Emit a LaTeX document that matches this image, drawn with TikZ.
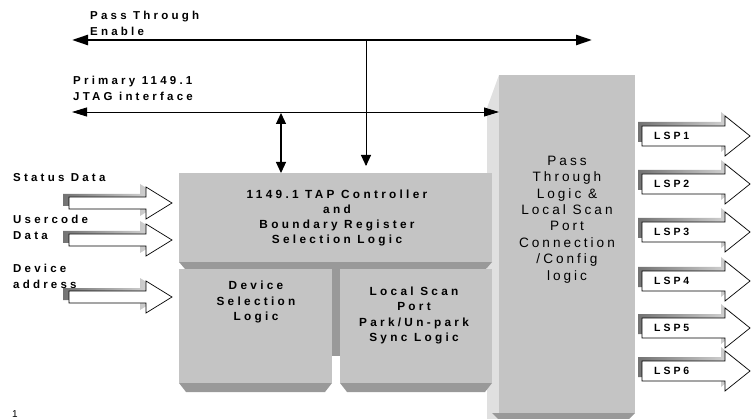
\documentclass[tikz,border=0pt]{standalone}
\usepackage{fontspec}
\setmainfont{Liberation Sans}
\newfontfamily\lblfont[LetterSpace=28]{Liberation Sans}
\newfontfamily\logicfont[LetterSpace=22]{Liberation Sans}
\usetikzlibrary{arrows.meta,calc}
\definecolor{facegray}{HTML}{C4C4C4}
\definecolor{edgegray}{HTML}{999999}
\definecolor{sidegray}{HTML}{E0E0E0}

% hollow block arrow with a soft drop shadow
% #1 start x, #2 centre y, #3 shaft half height, #4 head base x,
% #5 head half height, #6 tip x, #7/#8 shadow offset
\newcommand\fatarrow[8]{%
  \path[left color=black!55, right color=black!10, shift={(#7,#8)}]
    ({#1},{#2-#3}) -- ({#4},{#2-#3}) -- ({#4},{#2-#5}) -- ({#6},{#2})
    -- ({#4},{#2+#5}) -- ({#4},{#2+#3}) -- ({#1},{#2+#3}) -- cycle;
  \filldraw[fill=white, draw=black, line width=0.7pt]
    ({#1},{#2-#3}) -- ({#4},{#2-#3}) -- ({#4},{#2-#5}) -- ({#6},{#2})
    -- ({#4},{#2+#5}) -- ({#4},{#2+#3}) -- ({#1},{#2+#3}) -- cycle;
}

\begin{document}
\begin{tikzpicture}[x=1pt,y=-1pt,
  lbl/.style={font=\lblfont\bfseries\fontsize{11.5}{16}\selectfont, inner sep=0pt, text=black},
  lsplbl/.style={font=\lblfont\bfseries\fontsize{10.5}{12}\selectfont, inner sep=0pt, anchor=west},
  blocktxt/.style={font=\lblfont\bfseries\fontsize{11.8}{15.3}\selectfont, inner sep=0pt, align=center},
  face/.style={fill=facegray, draw=none, inner sep=0pt, outer sep=0pt},
  thickbus/.style={line width=2.4pt, {Triangle[length=16pt,width=10pt]}-{Triangle[length=16pt,width=10pt]}},
  thinbus/.style={line width=0.9pt, {Triangle[length=15pt,width=9pt]}-{Triangle[length=15pt,width=9pt]}},
  tapline/.style={line width=1pt, -{Triangle[length=11pt,width=10pt]}},
  tapboth/.style={line width=1.2pt, {Triangle[length=11pt,width=10pt]}-{Triangle[length=11pt,width=10pt]}}
]
\useasboundingbox (0,0) rectangle (751,419);

% ---- pass-through / local scan port block (drawn first, the others overlap its side)
\fill[sidegray] (499,75) -- (487,108) -- (487,419) -- (499,419) -- cycle;
\fill[edgegray] (492,413) -- (635,413) -- (629,419) -- (498,419) -- cycle;
\node[face, minimum width=136pt, minimum height=338pt] (ptl) at (567,244) {};
\node[font=\logicfont\fontsize{13.6}{16.4}\selectfont, align=center, inner sep=0pt] (ptltxt) at (567,219.5)
  {Pass\\Through\\Logic \&\\Local Scan\\Port\\Connection\\/Config\\logic};

% ---- TAP controller block
\fill[edgegray] (179,262) -- (492,262) -- (486,269) -- (185,269) -- cycle;
\node[face, minimum width=313pt, minimum height=89pt] (tap) at (335.5,217.5) {};
\node[blocktxt] (taptxt) at (337,218)
  {1149.1 TAP Controller\\and\\Boundary Register\\Selection Logic};

% ---- device selection block
\fill[edgegray] (332,262) rectangle (340,356);
\fill[edgegray] (179,383) -- (332,383) -- (325,392) -- (186,392) -- cycle;
\node[face, minimum width=153pt, minimum height=114pt] (dev) at (255.5,326) {};
\node[blocktxt] (devtxt) at (256,302) {Device\\Selection\\Logic};

% ---- local scan port park logic block
\fill[edgegray] (340,383) -- (492,383) -- (485,392) -- (347,392) -- cycle;
\node[face, minimum width=152pt, minimum height=114pt] (lsp) at (416,326) {};
\node[blocktxt] (lsptxt) at (414,315.5) {Local Scan\\Port\\Park/Un-park\\Sync Logic};

% ---- buses
\coordinate (pteL) at (72,40);
\coordinate (pteR) at (592,40);
\coordinate (pteTap) at (366,40);
\coordinate (jtagL) at (72,112);
\coordinate (jtagTap) at (281,112);
\draw[thickbus] (pteL) -- (pteR);
\draw[thinbus] (jtagL) -- (jtagL -| ptl.west);
\draw[line width=1pt] (pteTap) -- ([yshift=8pt]pteTap |- tap.north);
\draw[tapline] ([yshift=-12pt]pteTap |- jtagTap) -- ([yshift=7pt]pteTap |- tap.north);
\draw[tapboth] ([yshift=-1pt]jtagTap) -- (jtagTap |- tap.north);

\node[lbl, align=left, anchor=west] (ptelbl) at (90,23) {Pass Through\\Enable};
\node[lbl, align=left, anchor=west] (jtaglbl) at (73,88.5) {Primary 1149.1\\JTAG interface};

% ---- input arrows
\node[lbl, anchor=west] (stlbl) at (13,178) {Status Data};
\node[lbl, align=left, anchor=west] (uclbl) at (13,227.5) {Usercode\\Data};
\node[lbl, align=left, anchor=west] (dalbl) at (13,276) {Device\\address};
\fatarrow{69}{203}{6}{146}{16}{172}{-6}{-3}
\fatarrow{69}{240}{6}{146}{16}{172}{-6}{-3}
\fatarrow{69}{297}{6}{146}{16}{172}{-6}{-3}

% ---- local scan port outputs
\foreach \yc/\k in {136/1,184/2,232/3,281/4,328/5,371/6}{
  \fatarrow{642}{\yc}{10}{725}{20}{750}{-4}{-4}
  \node[lsplbl] (lsp\k) at (654,\yc) {LSP\k};
}

\node[font=\fontsize{10}{11}\selectfont, inner sep=0pt, anchor=south] (fn) at (15,418) {1};
\end{tikzpicture}
\end{document}
